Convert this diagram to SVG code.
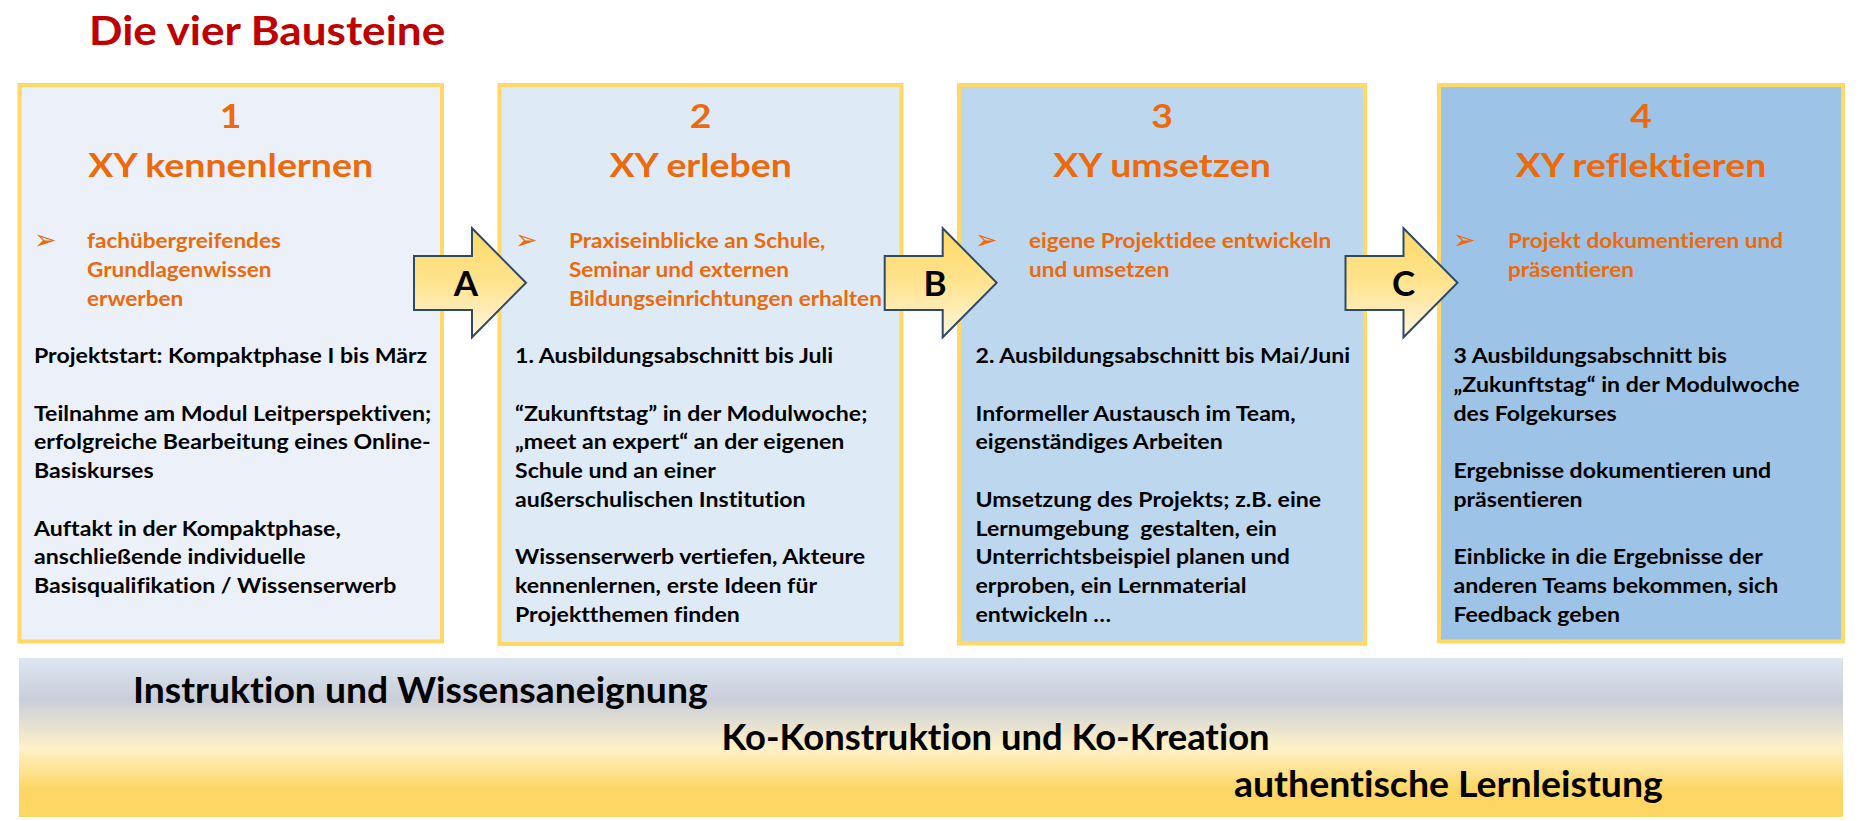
<svg xmlns="http://www.w3.org/2000/svg" width="1862" height="821" viewBox="0 0 1862 821">
<defs>
<linearGradient id="arrowGrad" x1="0" y1="0" x2="0" y2="1">
<stop offset="0" stop-color="#FFD966"/>
<stop offset="0.5" stop-color="#FFE38F"/>
<stop offset="1" stop-color="#FFF6DE"/>
</linearGradient>
<linearGradient id="bandGrad" x1="0" y1="0" x2="0" y2="1">
<stop offset="0" stop-color="#DCE6F2"/>
<stop offset="0.26" stop-color="#C9CEDA"/>
<stop offset="0.57" stop-color="#FFF1C8"/>
<stop offset="0.82" stop-color="#FDD766"/>
<stop offset="1" stop-color="#FDD663"/>
</linearGradient>
<style>
text { font-family: Lato, "Open Sans", sans-serif; font-weight: bold; font-variant-ligatures: none; font-feature-settings: "liga" 0, "clig" 0; }
.box { stroke: #FFD966; stroke-width: 4; }
.head { fill: #EC6A0C; font-size: 32px; text-anchor: middle; }
.bul { fill: #EC6A0C; font-size: 20.5px; }
.body { fill: #000; font-size: 21.5px; }
.sym { fill: #EC6A0C; font-family: "DejaVu Sans", sans-serif; font-size: 27px; font-weight: normal; }
.arrow { fill: url(#arrowGrad); stroke: #2E4A66; stroke-width: 2; stroke-linejoin: miter; }
.letter { font-size: 35px; text-anchor: middle; fill: #000; }
.band { font-size: 36px; fill: #000; }
.title { font-size: 41px; fill: #C00000; }
</style>
</defs>

<g id="title"><g transform="translate(89,0) scale(1.075,1)"><text class="title" x="0" y="45">Die vier Bausteine</text></g></g>

<g id="box1">
<rect class="box" x="19.5" y="85" width="422.5" height="556.5" fill="#EBF0F9"/>
<g transform="translate(230.7,0) scale(1.17,1)"><text class="head" x="0" y="128">1</text><text class="head" x="0" y="177">XY kennenlernen</text></g>
<text class="sym" x="34" y="249">➢</text>
<g transform="translate(87,0) scale(1.1,1)"><text class="bul"><tspan x="0" y="248.5">fachübergreifendes</tspan><tspan x="0" y="277.2">Grundlagenwissen</tspan><tspan x="0" y="305.9">erwerben</tspan></text></g>
<g transform="translate(34,0) scale(1.075,1)"><text class="body"><tspan x="0" y="363.4">Projektstart: Kompaktphase I bis März</tspan><tspan x="0" y="420.8">Teilnahme am Modul Leitperspektiven;</tspan><tspan x="0" y="449.5">erfolgreiche Bearbeitung eines Online-</tspan><tspan x="0" y="478.3">Basiskurses</tspan><tspan x="0" y="535.7">Auftakt in der Kompaktphase,</tspan><tspan x="0" y="564.4">anschließende individuelle</tspan><tspan x="0" y="593.1">Basisqualifikation / Wissenserwerb</tspan></text></g>
</g>

<g id="box2">
<rect class="box" x="499.5" y="85" width="402" height="559" fill="#DEEAF6"/>
<g transform="translate(700.7,0) scale(1.17,1)"><text class="head" x="0" y="128">2</text><text class="head" x="0" y="177">XY erleben</text></g>
<text class="sym" x="515" y="249">➢</text>
<g transform="translate(569,0) scale(1.1,1)"><text class="bul"><tspan x="0" y="248.5">Praxiseinblicke an Schule,</tspan><tspan x="0" y="277.2">Seminar und externen</tspan><tspan x="0" y="305.9">Bildungseinrichtungen erhalten</tspan></text></g>
<g transform="translate(515,0) scale(1.075,1)"><text class="body"><tspan x="0" y="363.4">1. Ausbildungsabschnitt bis Juli</tspan><tspan x="0" y="420.8">“Zukunftstag” in der Modulwoche;</tspan><tspan x="0" y="449.5">„meet an expert“ an der eigenen</tspan><tspan x="0" y="478.3">Schule und an einer</tspan><tspan x="0" y="507">außerschulischen Institution</tspan><tspan x="0" y="564.4">Wissenserwerb vertiefen, Akteure</tspan><tspan x="0" y="593.1">kennenlernen, erste Ideen für</tspan><tspan x="0" y="621.9">Projektthemen finden</tspan></text></g>
</g>

<g id="box3">
<rect class="box" x="959" y="85" width="406" height="558.5" fill="#BDD7EE"/>
<g transform="translate(1162,0) scale(1.17,1)"><text class="head" x="0" y="128">3</text><text class="head" x="0" y="177">XY umsetzen</text></g>
<text class="sym" x="975" y="249">➢</text>
<g transform="translate(1029,0) scale(1.1,1)"><text class="bul"><tspan x="0" y="248.5">eigene Projektidee entwickeln</tspan><tspan x="0" y="277.2">und umsetzen</tspan></text></g>
<g transform="translate(975.5,0) scale(1.075,1)"><text class="body" style="white-space:pre"><tspan x="0" y="363.4">2. Ausbildungsabschnitt bis Mai/Juni</tspan><tspan x="0" y="420.8">Informeller Austausch im Team,</tspan><tspan x="0" y="449.5">eigenständiges Arbeiten</tspan><tspan x="0" y="507">Umsetzung des Projekts; z.B. eine</tspan><tspan x="0" y="535.7">Lernumgebung  gestalten, ein</tspan><tspan x="0" y="564.4">Unterrichtsbeispiel planen und</tspan><tspan x="0" y="593.1">erproben, ein Lernmaterial</tspan><tspan x="0" y="621.9">entwickeln …</tspan></text></g>
</g>

<g id="box4">
<rect class="box" x="1439" y="85" width="404" height="556.5" fill="#9DC3E6"/>
<g transform="translate(1641,0) scale(1.17,1)"><text class="head" x="0" y="128">4</text><text class="head" x="0" y="177">XY reflektieren</text></g>
<text class="sym" x="1453" y="249">➢</text>
<g transform="translate(1508,0) scale(1.1,1)"><text class="bul"><tspan x="0" y="248.5">Projekt dokumentieren und</tspan><tspan x="0" y="277.2">präsentieren</tspan></text></g>
<g transform="translate(1453.5,0) scale(1.075,1)"><text class="body"><tspan x="0" y="363.4">3 Ausbildungsabschnitt bis</tspan><tspan x="0" y="392.1">„Zukunftstag“ in der Modulwoche</tspan><tspan x="0" y="420.8">des Folgekurses</tspan><tspan x="0" y="478.3">Ergebnisse dokumentieren und</tspan><tspan x="0" y="507">präsentieren</tspan><tspan x="0" y="564.4">Einblicke in die Ergebnisse der</tspan><tspan x="0" y="593.1">anderen Teams bekommen, sich</tspan><tspan x="0" y="621.9">Feedback geben</tspan></text></g>
</g>

<g id="connectors">
<g id="arrowA">
<path class="arrow" d="M414,256 H472 V228.3 L526,282.7 L472,337.3 V310 H414 Z"/>
<text class="letter" x="466" y="296">A</text>
</g>
<g id="arrowB">
<path class="arrow" d="M884.7,256 H942.7 V228.3 L996.7,282.7 L942.7,337.3 V310 H884.7 Z"/>
<text class="letter" x="935" y="296">B</text>
</g>
<g id="arrowC">
<path class="arrow" d="M1345.5,256 H1403.5 V228.3 L1457.5,282.7 L1403.5,337.3 V310 H1345.5 Z"/>
<text class="letter" x="1403.5" y="296">C</text>
</g>
</g>

<g id="band">
<rect x="19" y="658" width="1824" height="159" fill="url(#bandGrad)"/>
<g transform="translate(133,0) scale(1.037,1)"><text class="band" x="0" y="702.7">Instruktion und Wissensaneignung</text></g>
<g transform="translate(721.5,0) scale(1.012,1)"><text class="band" x="0" y="750">Ko-Konstruktion und Ko-Kreation</text></g>
<g transform="translate(1234,0) scale(1.04,1)"><text class="band" x="0" y="797">authentische Lernleistung</text></g>
</g>
</svg>
